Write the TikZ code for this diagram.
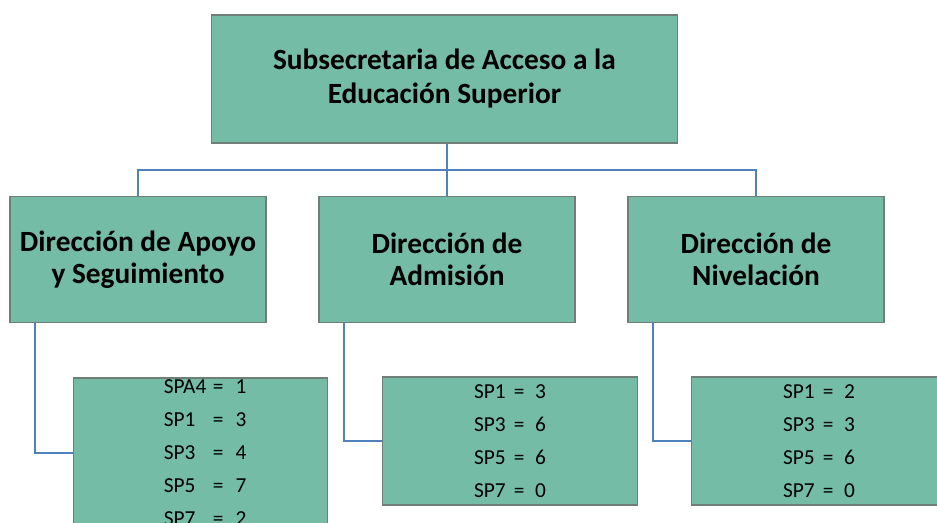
\documentclass[tikz,border=0pt]{standalone}
\usepackage{fontspec}
\setmainfont{Carlito}
\usepackage{tikz}
\usetikzlibrary{positioning}
\definecolor{boxgreen}{HTML}{74BCA5}
\definecolor{boxedge}{HTML}{6F7F78}
\definecolor{linkblue}{HTML}{4F81BD}
\newcommand{\spline}[2]{#1\hspace{6pt}=\hspace{8pt}#2}
\tikzset{
  orgbox/.style={
    draw=boxedge,
    fill=boxgreen,
    line width=0.9pt,
    align=center,
    inner sep=0pt
  },
  headbox/.style={
    orgbox,
    minimum width=350pt,
    minimum height=96pt,
    font=\fontsize{22}{25.5}\selectfont\bfseries
  },
  dirbox/.style={
    orgbox,
    minimum width=192pt,
    minimum height=95pt,
    font=\fontsize{22}{24}\selectfont\bfseries
  },
  countbox/.style={
    orgbox,
    minimum width=191pt,
    minimum height=96pt,
    font=\fontsize{16}{24.75}\selectfont
  },
  orglink/.style={
    draw=linkblue,
    line width=1.6pt
  }
}

\begin{document}
\begin{tikzpicture}[x=0.75pt,y=-0.75pt]
    \clip (0,0) rectangle (937,523);
    \node[headbox] (subsec) at (444.5,79) {Subsecretaria de Acceso a la\\Educación Superior};

    \node[dirbox] (apoyo) at (138,259.5) {Dirección de Apoyo\\y Seguimiento};
    \node[dirbox] (admision) at (447,259.5) {Dirección de\\Admisión};
    \node[dirbox] (nivel) at (756,259.5) {Dirección de\\Nivelación};

    % the last line runs past the lower edge, as in the source
    \node[countbox, minimum height=112.5pt, inner ysep=-6pt] (spapoyo) at (200.5,453) {%
      \hspace*{7pt}\begin{tabular}{@{}l@{\hspace{5pt}=\hspace{9pt}}l@{}}SPA4 & 1\\ SP1 & 3\\ SP3 & 4\\ SP5 & 7\\ SP7 & 2\end{tabular}};
    \node[countbox] (spadmision) at (510,441) {\spline{SP1}{3}\\\spline{SP3}{6}\\\spline{SP5}{6}\\\spline{SP7}{0}};
    \node[countbox] (spnivel) at (819,441) {\spline{SP1}{2}\\\spline{SP3}{3}\\\spline{SP5}{6}\\\spline{SP7}{0}};

    \coordinate (split) at (447,170);
    \draw[orglink] (subsec.south -| split) -- (split);
    \draw[orglink] (apoyo.north) |- (split) -| (nivel.north);
    \draw[orglink] (split) -- (admision.north);

    \draw[orglink] ([xshift=19.5pt]apoyo.south west) |- (spapoyo.west);
    \draw[orglink] ([xshift=19.5pt]admision.south west) |- (spadmision.west);
    \draw[orglink] ([xshift=19.5pt]nivel.south west) |- (spnivel.west);
\end{tikzpicture}
\end{document}
